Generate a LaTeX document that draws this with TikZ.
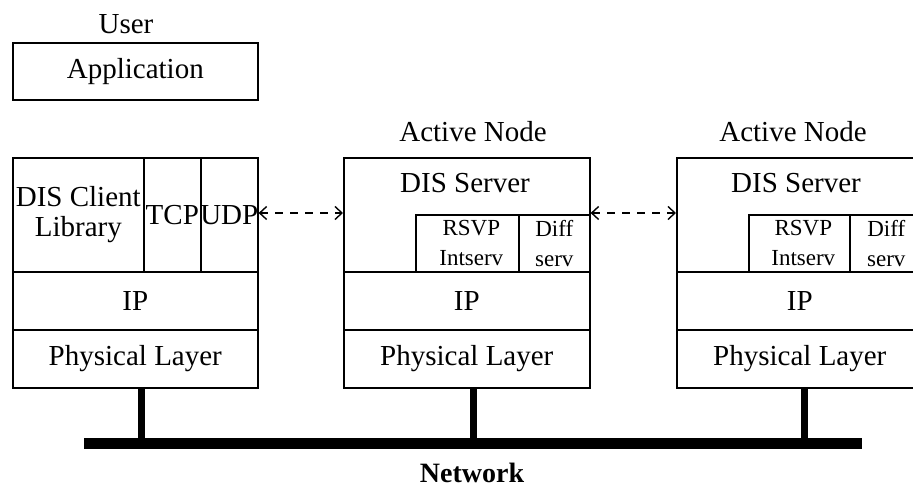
\documentclass[tikz,border=0pt]{standalone}
\usepackage{fontspec}
\setmainfont{Liberation Serif}
\usetikzlibrary{arrows.meta}
\begin{document}
\begin{tikzpicture}[x=1pt,y=-1pt,
  cell/.style={draw, line width=1.6pt, inner sep=0pt, anchor=north west,
    font=\fontsize{29}{30}\selectfont, align=center},
  big/.style={font=\fontsize{29}{30}\selectfont, inner sep=0pt},
  small/.style={cell, font=\fontsize{23}{30}\selectfont},
  link/.style={line width=1.4pt, dash pattern=on 8pt off 7pt,
    {Straight Barb[length=7pt,width=13pt,line width=1.4pt]}-{Straight Barb[length=7pt,width=13pt,line width=1.4pt]}},
  stub/.style={line width=7pt}
]
\path[use as bounding box] (0,0) rectangle (913,489);
\clip (0,0) rectangle (913,489);

% user side
\node[big] (user) at (126,24) {User};
\node[cell, minimum width=245pt, minimum height=57pt] (app) at (12,42) {Application};

\node[cell, minimum width=131pt, minimum height=114pt] (dcl) at (12,157) {DIS Client\\Library};
\node[cell, minimum width=57pt, minimum height=114pt] (tcp) at (143,157) {TCP};
\node[cell, minimum width=57pt, minimum height=114pt] (udp) at (200,157) {\makebox[55pt]{UDP}};
\node[cell, minimum width=245pt, minimum height=58pt] (ip1) at (12,271) {IP};
\node[cell, minimum width=245pt, minimum height=58pt] (ph1) at (12,329) {Physical Layer};

% first active node
\node[big] (an2) at (473,132) {Active Node};
\node[cell, minimum width=246pt, minimum height=114pt] (srv2) at (343,157) {};
\node[big] (ds2) at (465,183) {DIS Server};
\node[small, minimum width=103pt, minimum height=57pt] (rsvp2) at (415,214) {\hspace*{8pt}RSVP\\\hspace*{8pt}Intserv};
\node[small, minimum width=71pt, minimum height=57pt] (diff2) at (518,214) {Diff\\serv};
\node[cell, minimum width=246pt, minimum height=58pt] (ip2) at (343,271) {IP};
\node[cell, minimum width=246pt, minimum height=58pt] (ph2) at (343,329) {Physical Layer};

% second active node
\node[big] (an3) at (793,132) {Active Node};
\node[cell, minimum width=246pt, minimum height=114pt] (srv3) at (676,157) {};
\node[big] (ds3) at (796,183) {DIS Server};
\node[small, minimum width=101pt, minimum height=57pt] (rsvp3) at (748,214) {\hspace*{8pt}RSVP\\\hspace*{8pt}Intserv};
\node[small, minimum width=73pt, minimum height=57pt] (diff3) at (849,214) {Diff\\serv};
\node[cell, minimum width=246pt, minimum height=58pt] (ip3) at (676,271) {IP};
\node[cell, minimum width=246pt, minimum height=58pt] (ph3) at (676,329) {Physical Layer};

% peer links
\coordinate (lk) at (257,213);
\draw[link] (lk -| udp.east) -- (lk -| srv2.west);
\draw[link] (lk -| srv2.east) -- (lk -| srv3.west);

% network bus
\node[fill=black, inner sep=0pt, minimum width=778pt, minimum height=11pt, anchor=north west] (net) at (84,438) {};
\node[font=\fontsize{28}{30}\selectfont\bfseries, inner sep=0pt] (netlbl) at (472,473) {Network};

\coordinate (t1) at (141,387);
\coordinate (t2) at (473,387);
\coordinate (t3) at (804,387);
\draw[stub] (t1) -- (t1 |- net.north);
\draw[stub] (t2) -- (t2 |- net.north);
\draw[stub] (t3) -- (t3 |- net.north);
\end{tikzpicture}
\end{document}
